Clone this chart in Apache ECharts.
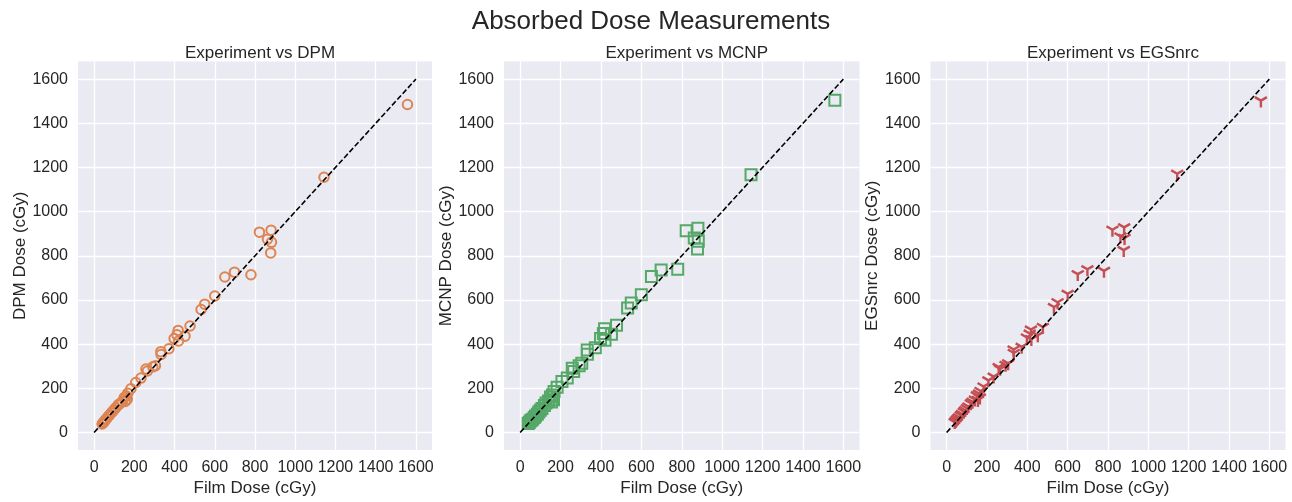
<!DOCTYPE html>
<html>
<head>
<meta charset="utf-8">
<script src="https://cdn.jsdelivr.net/npm/echarts@6/dist/echarts.min.js"></script>
<style>
html,body{margin:0;padding:0;background:#fff;}
#c{width:1292px;height:502px;}
</style>
</head>
<body>
<div id="c"></div>
<script>
// ---- data ----
var mainTitle = 'Absorbed Dose Measurements';
var panelTitles = ['Experiment vs DPM', 'Experiment vs MCNP', 'Experiment vs EGSnrc'];
var yNames = ['DPM Dose (cGy)', 'MCNP Dose (cGy)', 'EGSnrc Dose (cGy)'];
var xName = 'Film Dose (cGy)';
var tickValues = [0, 200, 400, 600, 800, 1000, 1200, 1400, 1600];
var identityLine = [[0, 0], [1600, 1600]];

var filmDose = [1558,1143,822,880,862,882,878,780,650,698,600,550,532,477,418,412,452,420,398,372,332,333,305,292,258,265,233,207,183,168,160,165,150,140,128,120,108,100,92,85,76,70,62,55,50,45,40,155];
var dpmDose  = [1485,1156,907,916,875,861,813,714,704,726,618,581,557,482,462,442,436,414,425,379,366,353,302,297,287,278,246,226,198,178,165,150,158,140,130,125,112,104,95,88,78,72,62,56,48,44,38,140];
var mcnpDose = [1504,1167,913,925,881,866,831,739,706,736,624,586,564,485,470,448,445,418,425,384,373,354,313,302,291,276,246,231,205,185,170,148,160,142,133,122,108,100,92,82,74,68,60,55,52,45,40,138];
var egsDose  = [1495,1164,910,921,880,873,818,724,709,731,620,582,560,470,458,440,432,415,422,380,368,352,305,298,288,280,245,228,200,180,168,150,160,141,131,124,110,102,93,86,76,70,61,55,50,44,39,139];

// ---- chart ----
var FONT = 'Liberation Sans, Arial, sans-serif';
var TXT = '#262626';
var grids = [
  {left: 78, top: 61.5, width: 354, height: 393},
  {left: 504, top: 61.5, width: 355.5, height: 393},
  {left: 930.5, top: 61.5, width: 355, height: 393}
];
var colors = ['#DD8452', '#55A868', '#C44E52'];
var yData = [dpmDose, mcnpDose, egsDose];
var symbols = ['circle', 'rect', 'path://M10,10 L10,20 M10,10 L1.34,5 M10,10 L18.66,5'];
var symSizes = [9.5, 11, 12];

function pairs(xs, ys){ return xs.map(function(x, i){ return [x, ys[i]]; }); }
function fmt(v){ return String(v); }

var option = {
  animation: false,
  backgroundColor: '#ffffff',
  title: [{text: mainTitle, left: 646, textAlign: 'center', top: 4,
           textStyle: {fontFamily: FONT, fontSize: 26, fontWeight: 'normal', color: TXT}}],
  grid: [], xAxis: [], yAxis: [], series: []
};

for (var i = 0; i < 3; i++) {
  var g = grids[i];
  option.title.push({text: panelTitles[i], left: g.left + g.width / 2, textAlign: 'center', top: 40,
    textStyle: {fontFamily: FONT, fontSize: 17, fontWeight: 'normal', color: TXT}});
  option.grid.push({left: g.left, top: g.top, width: g.width, height: g.height,
    show: true, backgroundColor: '#EAEAF2', borderWidth: 0, containLabel: false});
  var axisCommon = {
    type: 'value', min: -80, max: 1680, gridIndex: i,
    axisLine: {show: false},
    axisTick: {show: false, customValues: tickValues},
    splitLine: {show: true, lineStyle: {color: '#ffffff', width: 1.3}},
    axisLabel: {customValues: tickValues, fontFamily: FONT, fontSize: 16, color: TXT},
    nameLocation: 'middle',
    nameTextStyle: {fontFamily: FONT, fontSize: 17, color: TXT}
  };
  var xa = JSON.parse(JSON.stringify(axisCommon));
  xa.name = xName; xa.nameGap = 28; xa.axisLabel.margin = 9; xa.axisLabel.formatter = fmt;
  var ya = JSON.parse(JSON.stringify(axisCommon));
  ya.name = yNames[i]; ya.nameGap = 45; ya.axisLabel.margin = 10; ya.axisLabel.formatter = fmt;
  option.xAxis.push(xa);
  option.yAxis.push(ya);

  var isPath = i === 2;
  option.series.push({
    type: 'scatter', xAxisIndex: i, yAxisIndex: i,
    data: pairs(filmDose, yData[i]),
    symbol: symbols[i], symbolSize: symSizes[i], symbolKeepAspect: true,
    itemStyle: {color: isPath ? 'none' : 'rgba(0,0,0,0)', borderColor: colors[i], borderWidth: isPath ? 2.4 : 2, opacity: 1},
    emphasis: {disabled: true},
    z: 2
  });
  option.series.push({
    type: 'line', xAxisIndex: i, yAxisIndex: i,
    data: identityLine, symbol: 'none',
    lineStyle: {color: '#000000', width: 1.6, type: [5.5, 2.4]},
    z: 3
  });
}

var chart = echarts.init(document.getElementById('c'), null, {renderer: 'canvas'});
chart.setOption(option);
</script>
</body>
</html>
